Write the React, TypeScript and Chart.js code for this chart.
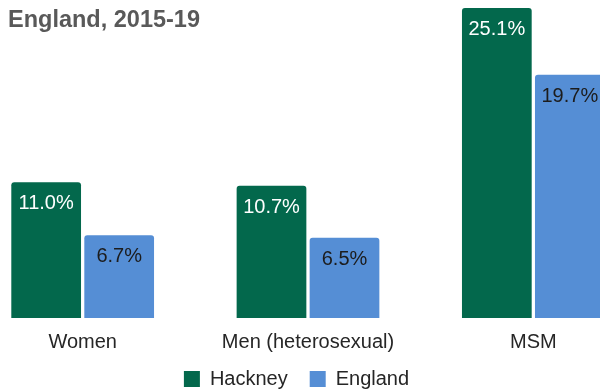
import React, { useEffect, useRef } from "react";
import { Chart, registerables } from "chart.js";

Chart.register(...registerables);

const categories = ["Women", "Men (heterosexual)", "MSM"];
const hackneyValues = [11.0, 10.7, 25.1];
const englandValues = [6.7, 6.5, 19.7];
const seriesNames = ["Hackney", "England"];
const titleText = "England, 2015-19";

const GREEN = "#03684C";
const BLUE = "#558ED5";
const FONT = "'Liberation Sans', Arial, sans-serif";

const valueLabels = {
  id: "valueLabels",
  afterDatasetsDraw(chart: any) {
    const ctx = chart.ctx;
    ctx.save();
    ctx.font = `20px ${FONT}`;
    ctx.textAlign = "center";
    ctx.textBaseline = "alphabetic";
    chart.data.datasets.forEach((ds: any, i: number) => {
      const meta = chart.getDatasetMeta(i);
      ctx.fillStyle = i === 0 ? "#ffffff" : "#1c1c1c";
      meta.data.forEach((bar: any, j: number) => {
        const v = ds.data[j] as number;
        ctx.fillText(v.toFixed(1) + "%", bar.x, bar.y + 27);
      });
    });
    ctx.restore();
  },
};

// pull the legend a little closer to the axis labels
const legendShift = {
  id: "legendShift",
  afterLayout(chart: any) {
    if (chart.legend) {
      chart.legend.top -= 6;
      chart.legend.bottom -= 6;
    }
  },
};

export default function App() {
  const ref = useRef<HTMLCanvasElement | null>(null);
  useEffect(() => {
    if (!ref.current) return;
    Chart.defaults.font.family = FONT;
    const chart = new Chart(ref.current, {
      type: "bar",
      data: {
        labels: categories,
        datasets: [
          {
            label: seriesNames[0],
            data: hackneyValues,
            backgroundColor: GREEN,
            borderRadius: 3,
            categoryPercentage: 0.648,
            barPercentage: 0.955,
          },
          {
            label: seriesNames[1],
            data: englandValues,
            backgroundColor: BLUE,
            borderRadius: 3,
            categoryPercentage: 0.648,
            barPercentage: 0.955,
          },
        ],
      },
      options: {
        responsive: false,
        animation: false,
        layout: { padding: { top: 16.9, left: 0, right: 0, bottom: 0 } },
        plugins: {
          legend: {
            position: "bottom",
            labels: {
              boxWidth: 16,
              boxHeight: 16,
              padding: 22,
              color: "#262626",
              font: { size: 20, family: FONT },
            },
          },
          title: { display: false },
          tooltip: { enabled: false },
        },
        scales: {
          x: {
            grid: { display: false, drawTicks: false },
            border: { display: false },
            ticks: {
              color: "#262626",
              padding: 12,
              font: { size: 20, family: FONT, lineHeight: 1.2 },
            },
            afterFit: (scale: any) => {
              scale.height = 35;
            },
          },
          y: {
            min: 0,
            max: 26,
            grid: { display: false, drawTicks: false },
            border: { display: false },
            ticks: { display: false },
            afterFit: (scale: any) => {
              scale.width = 23;
            },
          },
        },
      },
      plugins: [valueLabels, legendShift],
    } as any);
    return () => chart.destroy();
  }, []);

  return (
    <div
      style={{
        position: "fixed",
        left: 0,
        top: 0,
        width: 600,
        height: 390,
        overflow: "hidden",
        background: "#ffffff",
      }}
    >
      <canvas
        ref={ref}
        width={699}
        height={425}
        style={{ position: "absolute", left: -53, top: -20, display: "block" }}
      />
      <div
        style={{
          position: "absolute",
          left: 8,
          top: 6.7,
          fontFamily: FONT,
          fontWeight: "bold",
          fontSize: 23.5,
          lineHeight: "24px",
          color: "#595959",
          whiteSpace: "nowrap",
        }}
      >
        {titleText}
      </div>
    </div>
  );
}
